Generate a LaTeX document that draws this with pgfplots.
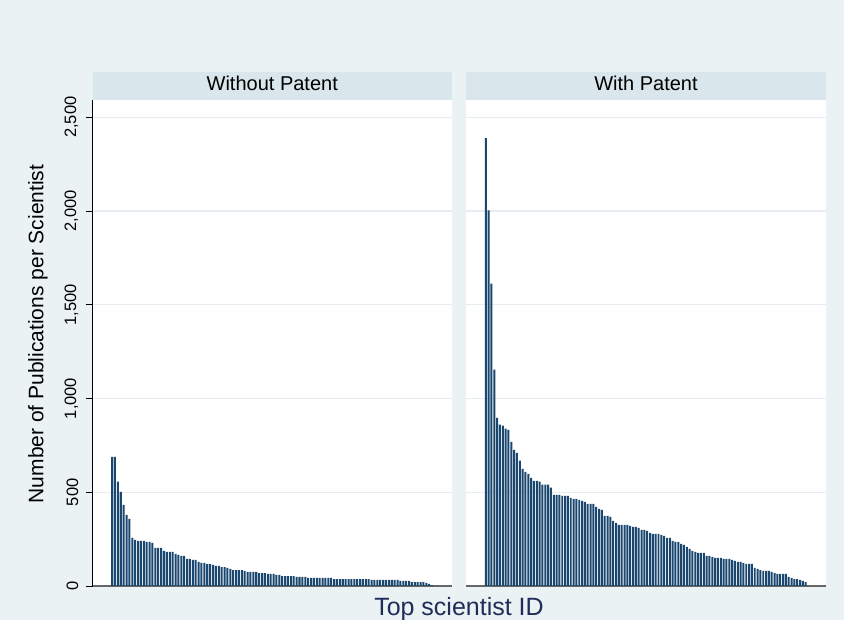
\documentclass[border=0pt]{standalone}
\usepackage{fontspec}
\setmainfont{Liberation Sans}
\usepackage{pgfplots}
\pgfplotsset{compat=1.18}
\usepackage{pgfplotstable}
\definecolor{bgc}{RGB}{234,242,243}
\definecolor{hdr}{RGB}{217,230,235}
\definecolor{stnavy}{RGB}{26,71,111}
\definecolor{gridc}{RGB}{230,237,241}
\definecolor{ttl}{RGB}{30,45,90}

\pgfplotstableread{
v
689
689
556
502
433
379
358
256
246
240
240
240
235
235
230
203
203
203
187
182
182
182
171
166
160
160
144
144
139
139
128
123
123
117
117
112
107
107
101
101
96
91
85
85
85
85
80
75
75
75
75
69
69
69
64
64
64
59
59
53
53
53
53
53
48
48
48
48
43
43
43
43
43
43
43
43
43
37
37
37
37
37
37
37
37
37
37
37
37
37
32
32
32
32
32
32
32
32
32
32
27
27
27
27
21
21
21
21
21
16
11
5
}\without

\pgfplotstableread{
v
2388
2003
1613
1154
896
860
855
839
833
769
726
710
668
625
609
598
577
561
561
556
540
540
540
524
486
486
486
481
481
481
470
465
465
459
454
449
438
438
438
422
411
406
374
374
369
347
336
326
326
326
326
320
315
315
310
299
299
294
283
278
278
278
272
267
256
256
240
235
235
224
219
208
198
187
182
176
176
176
160
160
155
150
150
150
144
144
144
139
134
128
128
123
118
118
118
96
91
85
80
80
80
75
69
64
64
64
64
48
43
37
37
32
27
21
}\withp

\begin{document}
\begin{tikzpicture}[x=1bp,y=1bp]
\fill[bgc] (0,0) rectangle (844,620);
\path[use as bounding box] (0,0) rectangle (844,620);
\fill[hdr] (92.5,520) rectangle (452,548);
\fill[hdr] (466,520) rectangle (826,548);
\node[anchor=base, inner sep=0pt, font=\fontsize{20bp}{24bp}\selectfont] at (272.25,529) {Without Patent};
\node[anchor=base, inner sep=0pt, font=\fontsize{20bp}{24bp}\selectfont] at (646,529) {With Patent};
\node[rotate=90, inner sep=0pt, font=\fontsize{21bp}{25bp}\selectfont] at (38,286) {Number of Publications per Scientist};
\node[anchor=base, inner sep=0pt, font=\fontsize{25bp}{30bp}\selectfont, text=ttl] at (459,4) {Top scientist ID};

\pgfplotsset{panel/.style={
  scale only axis, width=359.5bp, height=486bp,
  ymin=0, ymax=2592,
  axis background/.style={fill=white},
  ytick={0,500,1000,1500,2000,2500},
  xtick=\empty,
  ymajorgrids,
  major grid style={draw=gridc, line width=1.3bp},
  axis x line*=bottom, axis y line*=left,
  x axis line style={-, draw=black!60, line width=1.8bp},
  tick align=outside,
  major tick length=7bp,
  ytick style={draw=black, line width=0.8bp},
  /pgf/number format/assume math mode=true,
  /pgf/number format/1000 sep={,},
  yticklabel style={rotate=90, anchor=south, inner sep=0pt, font=\fontsize{16.5bp}{19bp}\selectfont},
  yticklabel shift=7bp,
}}

\begin{axis}[panel, at={(92.5bp,34bp)}, anchor=south west,
  xmin=-5.8, xmax=118.9,
  y axis line style={-, draw=black, line width=1bp}]
\addplot[ybar, bar width=0.7, fill=stnavy, draw=none] table[x expr=\coordindex+1, y=v] {\without};
\end{axis}

\begin{axis}[panel, at={(466bp,34bp)}, anchor=south west,
  xmin=-6, xmax=121,
  y axis line style={draw=none}, ytick style={draw=none}, yticklabels={}]
\addplot[ybar, bar width=0.7, fill=stnavy, draw=none] table[x expr=\coordindex+1, y=v] {\withp};
\end{axis}
\end{tikzpicture}
\end{document}
